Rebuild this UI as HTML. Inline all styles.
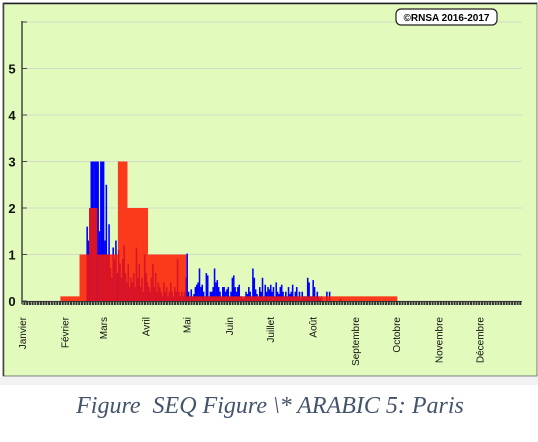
<!DOCTYPE html>
<html><head><meta charset="utf-8"><style>
html,body{margin:0;padding:0;background:#fff;width:538px;height:442px;overflow:hidden}
svg{display:block}
</style></head><body>
<svg id="chart" width="538" height="442" font-family="Liberation Sans, sans-serif">
<rect x="0" y="0" width="538" height="442" fill="#ffffff"/>
<rect x="3" y="3" width="534" height="373" fill="#e2fbbd" stroke="#777" stroke-width="1"/>
<line x1="3" y1="3.5" x2="537" y2="3.5" stroke="#222" stroke-width="1.5"/>
<line x1="3.5" y1="3" x2="3.5" y2="376" stroke="#444" stroke-width="1.5"/>
<rect x="0" y="377" width="538" height="8" fill="#f2f2f2"/>
<g id="grid"></g>
<g id="blue"></g>
<g id="red"></g>
<g id="axes"></g>
<rect x="396" y="9" width="101" height="16" rx="5" fill="#fff" stroke="#222" stroke-width="1.2"/>
<text x="446.5" y="21" text-anchor="middle" font-size="10" font-weight="bold" fill="#000">©RNSA 2016-2017</text>
<text x="270" y="413" text-anchor="middle" font-family="Liberation Serif, serif" font-style="italic" font-size="24" fill="#44546a" style="white-space:pre" xml:space="preserve">Figure  SEQ Figure \* ARABIC 5: Paris</text>
</svg>
<script>
const months = ["Janvier","Février","Mars","Avril","Mai","Juin","Juillet","Août","Septembre","Octobre","Novembre","Décembre"];
const monthStartDays = [0,31,59,90,120,151,181,212,243,273,304,334];
const yTicks = [0,1,2,3,4,5];
const blueStartDay = 44;
const blueValues = [0,0,0,1.6,1.3,2,3,3,3,3,3,3,1.5,3,3,3,1.3,2.5,1.0,1.65,0.7,0.5,1.15,0.9,1.3,0.6,1.1,0.8,0.5,0.9,1.2,0.6,0.4,0.8,0.3,0.5,0.4,0.6,0.3,1.15,0.5,0.8,0.3,0.5,0.2,1.0,0.6,0.4,0.3,0.2,0.5,0.8,0.3,0.6,0.2,0.4,0.3,0.2,0.1,0.4,0.2,0.3,0.1,0.2,0.4,0.2,0.1,0.3,0.2,0.9,0.2,0.1,0.2,0.1,0.2,0.5,1.02,0.2,0.1,0.25,0.1,0.15,0.3,0.35,0.4,0.7,0.3,0.35,0.2,0.1,0.6,0.55,0.1,0.2,0.2,0.3,0.7,0.4,0.45,0.3,0.2,0.1,0.3,0.3,0.2,0.25,0.3,0.1,0.2,0.5,0.55,0.3,0.2,0.3,0.35,0.1,0.1,0.05,0.1,0.2,0.15,0.3,0.2,0.1,0.7,0.5,0.25,0.15,0.1,0.3,0.2,0.5,0.1,0.35,0.2,0.3,0.25,0.35,0.2,0.3,0.1,0.4,0.2,0.15,0.3,0.35,0.2,0.1,0.2,0.1,0.3,0.15,0.2,0.35,0.1,0.2,0.3,0.1,0.2,0.05,0.2,0.1,0.1,0.1,0.5,0.4,0.1,0.1,0.45,0.3,0.1,0.2,0.1,0.05,0.1,0,0,0,0.2,0,0.2,0,0,0,0,0,0,0,0.05,0,0,0,0];
const redStarts = [28,42,49,55,70,77,92,120];
const redEnds   = [42,49,55,70,77,92,120,274];
const redValues = [0.1,1,2,1,3,2,1,0.1];

const NS="http://www.w3.org/2000/svg";
const X0=22, X1=522, Y0=301, PXU=46.5;
const xs = d => X0 + d*(X1-X0)/365;
const ys = v => Y0 - v*PXU;
function mk(tag, attrs, parent){const e=document.createElementNS(NS,tag);for(const k in attrs)e.setAttribute(k,attrs[k]);parent.appendChild(e);return e;}
const grid=document.getElementById('grid'), axes=document.getElementById('axes');
yTicks.concat([6]).forEach(v=>{
  const g=mk('line',{x1:X0,x2:X1,y1:ys(v),y2:ys(v),stroke:'#d4dcc8','stroke-width':1},grid);
  
  
});
const bg=document.getElementById('blue');
blueValues.forEach((v,i)=>{
  if(v<=0)return;
  const d=blueStartDay+i;
  const r=mk('rect',{x:xs(d),y:ys(v),width:(X1-X0)/365+0.2,height:v*PXU,fill:'#0000ff'},bg);
  
  
});
const rg=document.getElementById('red');
redValues.forEach((v,i)=>{
  const r=mk('rect',{x:xs(redStarts[i]),y:ys(v),width:xs(redEnds[i])-xs(redStarts[i]),height:v*PXU,fill:'#ff1800','fill-opacity':0.85},rg);
  
  
});
const ya=mk('line',{x1:X0,x2:X0,y1:ys(6)-1,y2:Y0+3,stroke:'#444','stroke-width':1.5},axes);


yTicks.forEach(v=>{
  mk('line',{x1:X0,x2:X0+5,y1:ys(v),y2:ys(v),stroke:'#444'},axes);
  const t=mk('text',{x:12,y:ys(v)+5,'text-anchor':'middle','font-size':13,'font-weight':'bold',fill:'#111'},axes);
  t.textContent=v;
  
  
});
mk('line',{x1:X0,x2:X0+5,y1:ys(6),y2:ys(6),stroke:'#444'},axes);
const band=mk('rect',{x:X0,y:Y0,width:X1-X0,height:4,fill:'#333'},axes);


for(let d=0;d<365;d+=2){mk('rect',{x:xs(d)+0.7,y:Y0+1,width:0.7,height:3,fill:'#e2fbbd'},axes);}
months.forEach((m,i)=>{
  const x=xs(monthStartDays[i])+4;
  const t=mk('text',{x:x,y:317,transform:`rotate(-90 ${x} 317)`,'text-anchor':'end','font-size':10,fill:'#111'},axes);
  t.textContent=m;
  
  
});
</script>
</body></html>
